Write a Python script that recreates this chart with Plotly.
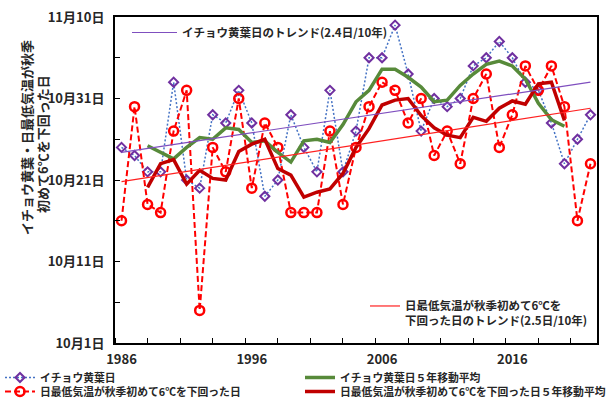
import plotly.graph_objects as go

# ---- data (days after Oct 1) ----
years = list(range(1986, 2023))
ginkgo_days = [24, 23, 21, 21, 32, 20, 19, 28, 27, 31,
               27, 18, 20, 28, 24, 21, 31, 21, 26, 35,
               35, 39, 33, 26, 30, 29, 30, 34, 35, 37,
               35, 32, 31, 27, 22, 25, 28]
cold_days = [15, 29, 17, 16, 26, 31, 4, 24, 21, 30,
             19, 27, 24, 16, 16, 16, 26, 17, 24, 29,
             32, 31, 27, 30, 23, 26, 22, 30, 33, 24,
             28, 34, 31, 34, 29, 15, 22]
ma_years = list(range(1988, 2021))
ginkgo_ma = [24.2, 23.4, 22.6, 24.0, 25.2, 25.0, 26.4, 26.2, 24.6, 24.8,
             23.4, 22.2, 24.8, 25.0, 24.6, 26.8, 29.6, 31.0, 33.6, 33.6,
             32.6, 31.4, 29.6, 29.8, 31.6, 33.0, 34.2, 34.6, 34.0, 32.4,
             29.4, 27.4, 26.6]
cold_ma = [19.1, 22.0, 22.5, 19.5, 21.2, 20.2, 20.0, 23.5, 24.4, 25.0,
           21.4, 20.6, 17.9, 18.5, 18.9, 20.8, 24.0, 26.3, 29.2, 29.8,
           30.0, 27.9, 26.4, 25.5, 25.2, 27.7, 27.2, 28.8, 29.7, 29.3,
           31.8, 32.0, 27.3]
trend_years = [1986, 2022]
ginkgo_trend = [23.4, 32.0]
cold_trend = [19.8, 28.8]

y_tickvals = [0, 10, 20, 30, 40]
y_ticktext = ["10月1日", "10月11日", "10月21日", "10月31日", "11月10日"]
x_tickvals = [1986, 1996, 2006, 2016]
x_ticktext = ["1986", "1996", "2006", "2016"]

FONT = "Noto Sans CJK JP"
TXT = "#262626"
W, H = 611, 398

fig = go.Figure()

fig.add_trace(go.Scatter(
    x=years, y=ginkgo_days, mode="lines+markers", name="イチョウ黄葉日",
    line=dict(color="#4472C4", width=1.5, dash="2px,2px"),
    marker=dict(symbol="diamond-open", size=7, color="#7030A0", line=dict(width=2, color="#7030A0")),
    legend="legend", showlegend=True))
fig.add_trace(go.Scatter(
    x=years, y=cold_days, mode="lines+markers", name="日最低気温が秋季初めて6℃を下回った日",
    line=dict(color="#FF0000", width=2, dash="6px,3px"),
    marker=dict(symbol="circle-open", size=9, color="#FF0000", line=dict(width=2.5, color="#FF0000")),
    legend="legend5", showlegend=True))
fig.add_trace(go.Scatter(
    x=ma_years, y=ginkgo_ma, mode="lines", name="イチョウ黄葉日５年移動平均",
    line=dict(color="#578A3A", width=3.5),
    legend="legend4", showlegend=True))
fig.add_trace(go.Scatter(
    x=ma_years, y=cold_ma, mode="lines", name="日最低気温が秋季初めて6℃を下回った日５年移動平均",
    line=dict(color="#C00000", width=3.5),
    legend="legend6", showlegend=True))
fig.add_trace(go.Scatter(
    x=trend_years, y=ginkgo_trend, mode="lines", name="イチョウ黄葉日のトレンド(2.4日/10年)",
    line=dict(color="#7F4FBF", width=1.2), legend="legend2", showlegend=True))
fig.add_trace(go.Scatter(
    x=trend_years, y=cold_trend, mode="lines",
    name="日最低気温が秋季初めて6℃を<br>下回った日のトレンド(2.5日/10年)",
    line=dict(color="#FF2020", width=1.2), legend="legend3", showlegend=True))

leg_font = dict(size=10.8, family=FONT, color=TXT, weight="bold")
in_font = dict(size=11.5, family=FONT, color=TXT, weight="bold")


def leg(px, py, iw=30, font=leg_font, **kw):
    # px: left edge of legend, py: top of legend (pixels in the page)
    return dict(xref="container", yref="container", x=px / W, y=1 - py / H,
                xanchor="left", yanchor="top", itemwidth=iw, visible=True,
                bgcolor="rgba(0,0,0,0)", font=font, **kw)


fig.update_layout(
    width=W, height=H, autosize=False, showlegend=True,
    margin=dict(l=115, r=14, t=17, b=55, autoexpand=False),
    paper_bgcolor="white", plot_bgcolor="white",
    font=dict(family=FONT, color=TXT, size=11),
    legend=leg(0, 363),
    legend4=leg(300, 363),
    legend5=leg(0, 377),
    legend6=leg(300, 377),
    legend2=leg(127, 18, iw=45, font=in_font),
    legend3=leg(365, 292, font=in_font, valign="top"),
    xaxis=dict(range=[1985.5, 2022.5], tickmode="array", tickvals=x_tickvals, ticktext=x_ticktext,
               ticks="", showline=True, mirror=True, linecolor="black", linewidth=2,
               showgrid=False, zeroline=False, ticklabelstandoff=3,
               tickfont=dict(size=13, family=FONT, color=TXT, weight="bold"),
               minor=dict(tickmode="linear", tick0=1985.5, dtick=2.5, ticks="inside", ticklen=5,
                          tickcolor="black", tickwidth=1, showgrid=False)),
    yaxis=dict(range=[0, 40], tickmode="array", tickvals=y_tickvals, ticktext=y_ticktext,
               ticks="inside", ticklen=5, tickcolor="black", tickwidth=1,
               showline=True, mirror=True, linecolor="black", linewidth=2,
               showgrid=False, zeroline=False, ticklabelstandoff=6,
               tickfont=dict(size=13, family=FONT, color=TXT, weight="bold"),
               minor=dict(tickmode="linear", tick0=0, dtick=5, ticks="inside", ticklen=5,
                          tickcolor="black", tickwidth=1, showgrid=False)),
)

title_font = dict(size=13, family=FONT, color=TXT, weight="bold")
fig.add_annotation(text="イチョウ黄葉・日最低気温が秋季", xref="paper", yref="paper",
                   x=(26 - 115) / 482, y=(343 - 138) / 326, textangle=-90,
                   showarrow=False, xanchor="center", yanchor="middle", font=title_font)
fig.add_annotation(text="初めて6℃を下回った日", xref="paper", yref="paper",
                   x=(42 - 115) / 482, y=(343 - 144) / 326, textangle=-90,
                   showarrow=False, xanchor="center", yanchor="middle", font=title_font)

fig.write_html("out.html", config={"displayModeBar": False},
               post_script="document.body.style.margin='0px';")
